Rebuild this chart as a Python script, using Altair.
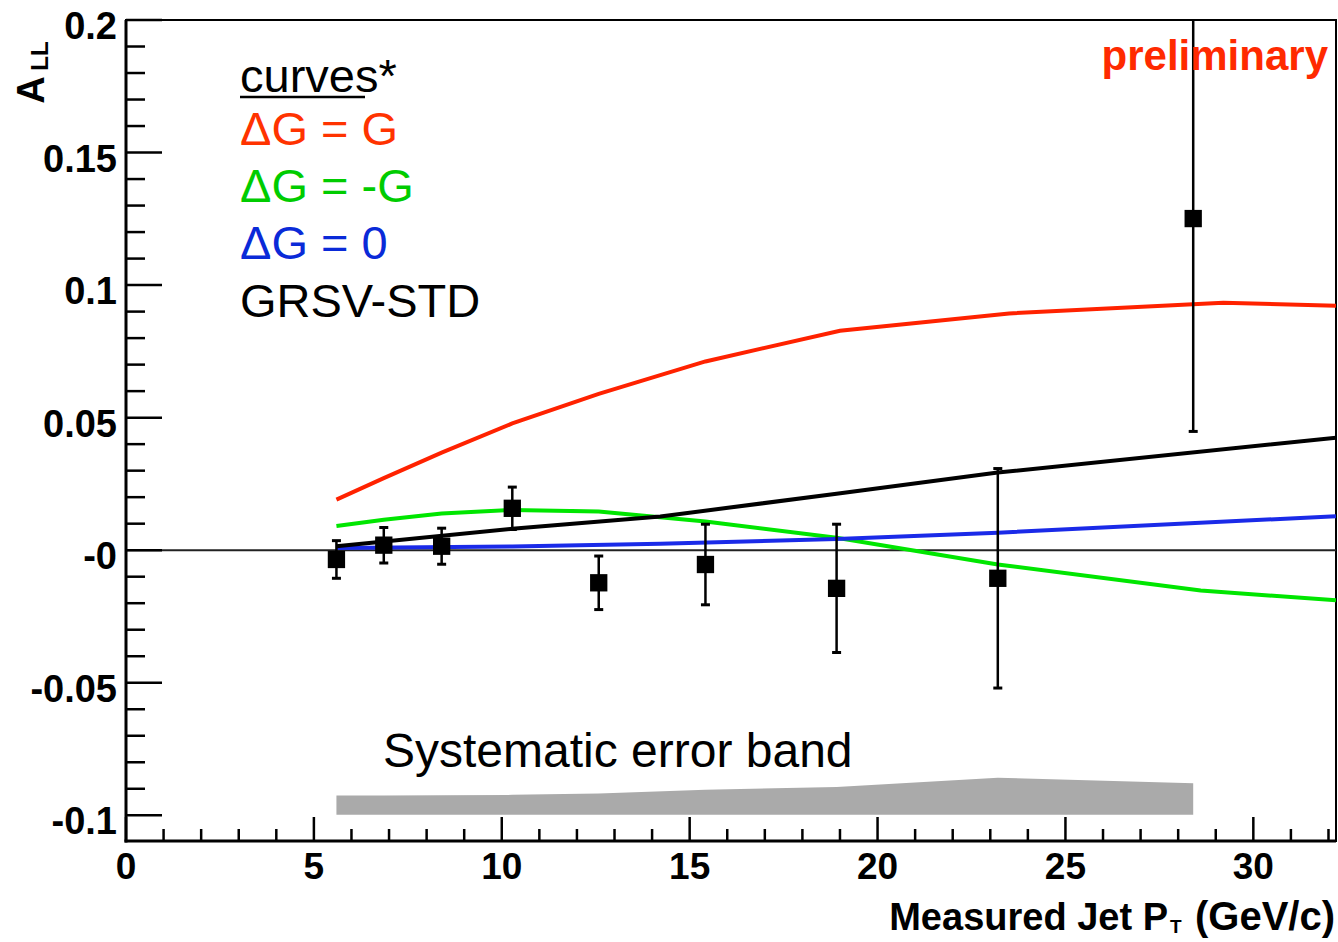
import altair as alt
import pandas as pd

# ---------------- data ----------------
pt_x = [5.60, 6.86, 8.40, 10.28, 12.58, 15.42, 18.91, 23.20, 28.40]
pt_y = [-0.0035, 0.0019, 0.0015, 0.0158, -0.0123, -0.0054, -0.0144, -0.0106, 0.1251]
pt_err = [0.0071, 0.0067, 0.0068, 0.0080, 0.0101, 0.0152, 0.0242, 0.0414, 0.0803]

red_x = [5.6, 6.86, 8.4, 10.28, 12.58, 15.42, 19.0, 23.5, 29.2, 32.2]
red_y = [0.0191, 0.0272, 0.0368, 0.0478, 0.0590, 0.0712, 0.0828, 0.0893, 0.0933, 0.0922]
green_x = [5.6, 6.86, 8.4, 10.28, 12.58, 15.42, 18.91, 23.2, 28.6, 32.2]
green_y = [0.0091, 0.0115, 0.0138, 0.0152, 0.0146, 0.0108, 0.0047, -0.0054, -0.0152, -0.0189]
blue_x = [5.6, 10.28, 14.22, 18.91, 23.2, 32.2]
blue_y = [0.0008, 0.0014, 0.0024, 0.0042, 0.0066, 0.0128]
black_x = [5.6, 10.28, 14.22, 18.91, 23.2, 32.2]
black_y = [0.0015, 0.0081, 0.0127, 0.0213, 0.0293, 0.0424]

band_x = [5.60, 6.86, 8.40, 10.28, 12.58, 15.42, 18.91, 23.20, 28.40]
band_top = [-0.0925, -0.0925, -0.0924, -0.0923, -0.0918, -0.0904, -0.0893, -0.0858, -0.0879]
band_bottom = [-0.0998, -0.0998, -0.0998, -0.0998, -0.0998, -0.0998, -0.0998, -0.0998, -0.0998]

x_major = [0, 5, 10, 15, 20, 25, 30]
x_labels = ["0", "5", "10", "15", "20", "25", "30"]
x_minor = [1, 2, 3, 4, 6, 7, 8, 9, 11, 12, 13, 14, 16, 17, 18, 19, 21, 22, 23, 24,
           26, 27, 28, 29, 31, 32]
y_major = [-0.1, -0.05, 0.0, 0.05, 0.1, 0.15, 0.2]
y_labels = ["-0.1", "-0.05", "-0", "0.05", "0.1", "0.15", "0.2"]
y_minor = [-0.09, -0.08, -0.07, -0.06, -0.04, -0.03, -0.02, -0.01, 0.01, 0.02, 0.03,
           0.04, 0.06, 0.07, 0.08, 0.09, 0.11, 0.12, 0.13, 0.14, 0.16, 0.17, 0.18, 0.19]

series_names = ["dG=G", "dG=-G", "dG=0", "GRSV-STD"]
series_colors = ["#ff2200", "#00e600", "#1a2ae8", "#000000"]

FONT = "Liberation Sans"
W, H = 1210, 821

# ---------------- frames ----------------
df_pts = pd.DataFrame({
    "x": pt_x, "y": pt_y,
    "lo": [a - b for a, b in zip(pt_y, pt_err)],
    "hi": [a + b for a, b in zip(pt_y, pt_err)],
})
rows = []
for name, xs_, ys_ in zip(series_names, [red_x, green_x, blue_x, black_x],
                          [red_y, green_y, blue_y, black_y]):
    for i, (a, b) in enumerate(zip(xs_, ys_)):
        rows.append({"s": name, "x": a, "y": b, "i": i})
df_curves = pd.DataFrame(rows)
df_band = pd.DataFrame({"x": band_x, "top": band_top, "bottom": band_bottom})

xs = alt.Scale(domain=[0, 32.2], nice=False, zero=False)
ys = alt.Scale(domain=[-0.1097, 0.2], nice=False, zero=False)


def X(f):
    return alt.X(f, scale=xs, axis=None)


def Y(f):
    return alt.Y(f, scale=ys, axis=None)


band = alt.Chart(df_band).mark_area(color="#aaaaaa", opacity=1).encode(
    x=X("x:Q"), y=Y("top:Q"), y2="bottom:Q",
)

zero = alt.Chart(pd.DataFrame({"y": [0.0]})).mark_rule(color="#222222", strokeWidth=2).encode(
    y=Y("y:Q")
)

curves = alt.Chart(df_curves).mark_line(strokeWidth=4, clip=True).encode(
    x=X("x:Q"), y=Y("y:Q"),
    color=alt.Color("s:N", scale=alt.Scale(domain=series_names, range=series_colors), legend=None),
    order="i:Q",
)

ebars = alt.Chart(df_pts).mark_rule(color="black", strokeWidth=2.5, clip=True).encode(
    x=X("x:Q"), y=Y("lo:Q"), y2="hi:Q",
)
cap_lo = alt.Chart(df_pts).mark_tick(orient="horizontal", size=9, thickness=3, color="black",
                                     opacity=1, clip=True).encode(x=X("x:Q"), y=Y("lo:Q"))
cap_hi = alt.Chart(df_pts).mark_tick(orient="horizontal", size=9, thickness=3, color="black",
                                     opacity=1, clip=True).encode(x=X("x:Q"), y=Y("hi:Q"))
points = alt.Chart(df_pts).mark_square(size=300, color="black", opacity=1, filled=True).encode(
    x=X("x:Q"), y=Y("y:Q"),
)


# inward axis ticks
def xticks(vals, length):
    return alt.Chart(pd.DataFrame({"v": vals})).mark_rule(color="black", strokeWidth=2.5).encode(
        x=X("v:Q"), y=alt.value(H), y2=alt.value(H - length))


def yticks(vals, length):
    return alt.Chart(pd.DataFrame({"v": vals})).mark_rule(color="black", strokeWidth=2.5).encode(
        y=Y("v:Q"), x=alt.value(0), x2=alt.value(length))


ticks = [xticks(x_major, 24), xticks(x_minor, 12), yticks(y_major, 36), yticks(y_minor, 19)]

# axis lines (left and bottom, thicker than the frame)
axis_lines = [
    alt.Chart(pd.DataFrame({"a": [0]})).mark_rule(color="black", strokeWidth=3).encode(
        x=alt.value(0), y=alt.value(0), y2=alt.value(H + 1.5)),
    alt.Chart(pd.DataFrame({"a": [0]})).mark_rule(color="black", strokeWidth=3).encode(
        x=alt.value(-1.5), x2=alt.value(W), y=alt.value(H)),
]

# tick labels
xlab = alt.Chart(pd.DataFrame({"v": x_major, "t": x_labels})).mark_text(
    font=FONT, fontSize=37, fontWeight="bold", color="black", align="center",
    baseline="alphabetic", clip=False
).encode(x=X("v:Q"), y=alt.value(H + 38), text="t:N")

ylab = alt.Chart(pd.DataFrame({"v": y_major, "t": y_labels})).mark_text(
    font=FONT, fontSize=38, fontWeight="bold", color="black", align="right",
    baseline="alphabetic", dy=19, clip=False
).encode(x=alt.value(-9), y=Y("v:Q"), text="t:N")


def txt(s, x, y, size, color="black", weight="normal", align="left", angle=0):
    return alt.Chart(pd.DataFrame({"t": [s]})).mark_text(
        font=FONT, fontSize=size, fontWeight=weight, color=color, align=align,
        baseline="alphabetic", angle=angle, clip=False
    ).encode(x=alt.value(x), y=alt.value(y), text="t:N")


texts = [
    txt("curves*", 114, 72, 47),
    txt("\u0394G = G", 114, 125, 47, color="#ff3300"),
    txt("\u0394G = -G", 114, 182, 47, color="#00cc00"),
    txt("\u0394G = 0", 114, 239, 47, color="#0a2ad8"),
    txt("GRSV-STD", 114, 297, 47),
    txt("preliminary", 1202, 50, 42, color="#ff2a00", weight="bold", align="right"),
    txt("Systematic error band", 257, 747, 48),
    txt("A", -82, 70, 38, weight="bold", align="center", angle=270),
    txt("LL", -78, 36, 24, weight="bold", align="center", angle=270),
    txt("Measured Jet P", 1042, 910, 38, weight="bold", align="right"),
    txt("T", 1044, 913, 19, weight="bold"),
    txt("(GeV/c)", 1209, 910, 40, weight="bold", align="right"),
]
underline = alt.Chart(pd.DataFrame({"t": ["u"]})).mark_rule(color="black", strokeWidth=2.5).encode(
    x=alt.value(114), x2=alt.value(239), y=alt.value(77))

chart = alt.layer(
    band, zero, curves, ebars, cap_lo, cap_hi, points, *ticks, *axis_lines,
    xlab, ylab, *texts, underline
).properties(
    width=W, height=H,
    padding={"left": 126, "top": 20, "right": 2, "bottom": 101},
    autosize=alt.AutoSizeParams(type="none"),
    background="white",
).configure_view(stroke="black", strokeWidth=2)

chart.save("out.html", embed_options={"renderer": "svg", "actions": False})
